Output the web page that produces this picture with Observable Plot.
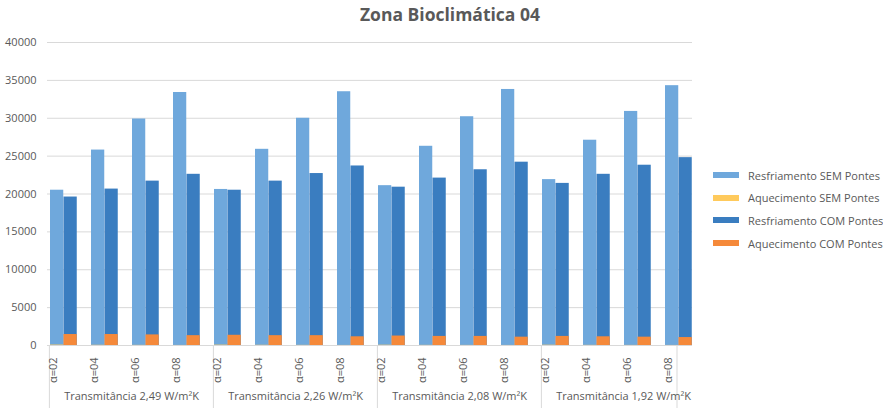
<!DOCTYPE html>
<html>
<head>
<meta charset="utf-8">
<script src="https://cdn.jsdelivr.net/npm/d3@7"></script>
<script src="https://cdn.jsdelivr.net/npm/@observablehq/plot@0.6"></script>
<style>
  html, body { margin: 0; padding: 0; background: #fff; }
  #wrap { position: relative; width: 883px; height: 415px; font-family: "Open Sans", "Noto Sans", sans-serif; }
  #title { position: absolute; left: 0; width: 900px; top: 2px; text-align: center; font-size: 17.5px; font-weight: bold; color: #595959; white-space: nowrap; }
  #legend { position: absolute; left: 713px; top: 164px; font-size: 11px; color: #595959; white-space: nowrap; }
  .li { display: flex; align-items: center; height: 22.6px; white-space: nowrap; }
  .sw { width: 26px; height: 6px; margin-right: 9px; flex: none; }
</style>
</head>
<body>
<div id="wrap">
  <div id="chart"></div>
  <div id="title">Zona Bioclimática 04</div>
  <div id="legend"></div>
</div>
<script>
const groups = ["Transmitância 2,49 W/m²K", "Transmitância 2,26 W/m²K", "Transmitância 2,08 W/m²K", "Transmitância 1,92 W/m²K"];
const alphas = ["α=02", "α=04", "α=06", "α=08"];
const resfriamentoSem = [20500, 25800, 29900, 33400, 20600, 25900, 30000, 33500, 21100, 26300, 30200, 33800, 21900, 27100, 30900, 34300];
const aquecimentoSem  = [60, 30, 20, 10, 50, 30, 20, 10, 40, 20, 15, 10, 40, 20, 15, 10];
const resfriamentoCom = [19600, 20650, 21700, 22600, 20500, 21700, 22700, 23700, 20900, 22100, 23200, 24200, 21400, 22600, 23800, 24800];
const aquecimentoCom  = [1450, 1450, 1400, 1300, 1350, 1300, 1300, 1150, 1250, 1200, 1200, 1100, 1200, 1150, 1100, 1050];
const yTicks = [0, 5000, 10000, 15000, 20000, 25000, 30000, 35000, 40000];
const seriesNames = ["Resfriamento SEM Pontes", "Aquecimento SEM Pontes", "Resfriamento COM Pontes", "Aquecimento COM Pontes"];
const colors = ["#6FA8DC", "#FFCA5C", "#3A7DC0", "#F5893A"];

const rows = [];
groups.forEach((g, gi) => alphas.forEach((a, ai) => {
  const i = gi * 4 + ai;
  rows.push({key: g + "|" + a, group: g, alpha: a,
    rs: resfriamentoSem[i], as: aquecimentoSem[i], rc: resfriamentoCom[i], ac: aquecimentoCom[i]});
}));
const keys = rows.map(d => d.key);
const bw = (707 - 47) / keys.length;
const sepKeys = groups.map(g => g + "|" + alphas[0]);
const midKeys = groups.map(g => g + "|" + alphas[1]);

const semIn = {insetLeft: 1, insetRight: bw - 14.5};
const comIn = {insetLeft: 14.5, insetRight: bw - 28};

const chart = Plot.plot({
  width: 883, height: 415,
  marginLeft: 47, marginRight: 176, marginTop: 42, marginBottom: 70,
  style: {fontFamily: "'Open Sans', 'Noto Sans', sans-serif", fontSize: "11px", color: "#595959"},
  x: {type: "band", domain: keys, padding: 0, axis: null},
  y: {domain: [0, 40000], ticks: yTicks, tickSize: 0, tickPadding: 11, label: null, tickFormat: d => String(d)},
  marks: [
    Plot.ruleY(yTicks, {stroke: "#d9d9d9", insetRight: 15}),
    Plot.barY(rows, {x: "key", y: "rs", fill: colors[0], ...semIn}),
    Plot.barY(rows, {x: "key", y: "as", fill: colors[1], ...semIn}),
    Plot.barY(rows, {x: "key", y: "rc", fill: colors[2], ...comIn}),
    Plot.barY(rows, {x: "key", y: "ac", fill: colors[3], ...comIn}),
    Plot.ruleX(sepKeys, {x: d => d, dx: -bw / 2, insetTop: 303, insetBottom: -63, stroke: "#d9d9d9"}),
    Plot.ruleX([keys[keys.length - 1]], {x: d => d, dx: -8, insetTop: 303, insetBottom: -63, stroke: "#d9d9d9"}),
    Plot.text(rows, {x: "key", text: "alpha", rotate: -90, textAnchor: "end", frameAnchor: "bottom", dy: 12, dx: -12.6, fill: "#595959", fontSize: 11}),
    Plot.text(groups.map((g, i) => ({g, k: midKeys[i]})), {x: "k", text: "g", frameAnchor: "bottom", dy: 54, dx: bw / 2, fill: "#595959", fontSize: 11}),
    Plot.ruleY([0], {stroke: "#d9d9d9", insetRight: 15})
  ]
});
document.getElementById("chart").appendChild(chart);

const leg = document.getElementById("legend");
seriesNames.forEach((n, i) => {
  const d = document.createElement("div");
  d.className = "li";
  d.innerHTML = `<span class="sw" style="background:${colors[i]}"></span><span>${n}</span>`;
  leg.appendChild(d);
});
</script>
</body>
</html>
